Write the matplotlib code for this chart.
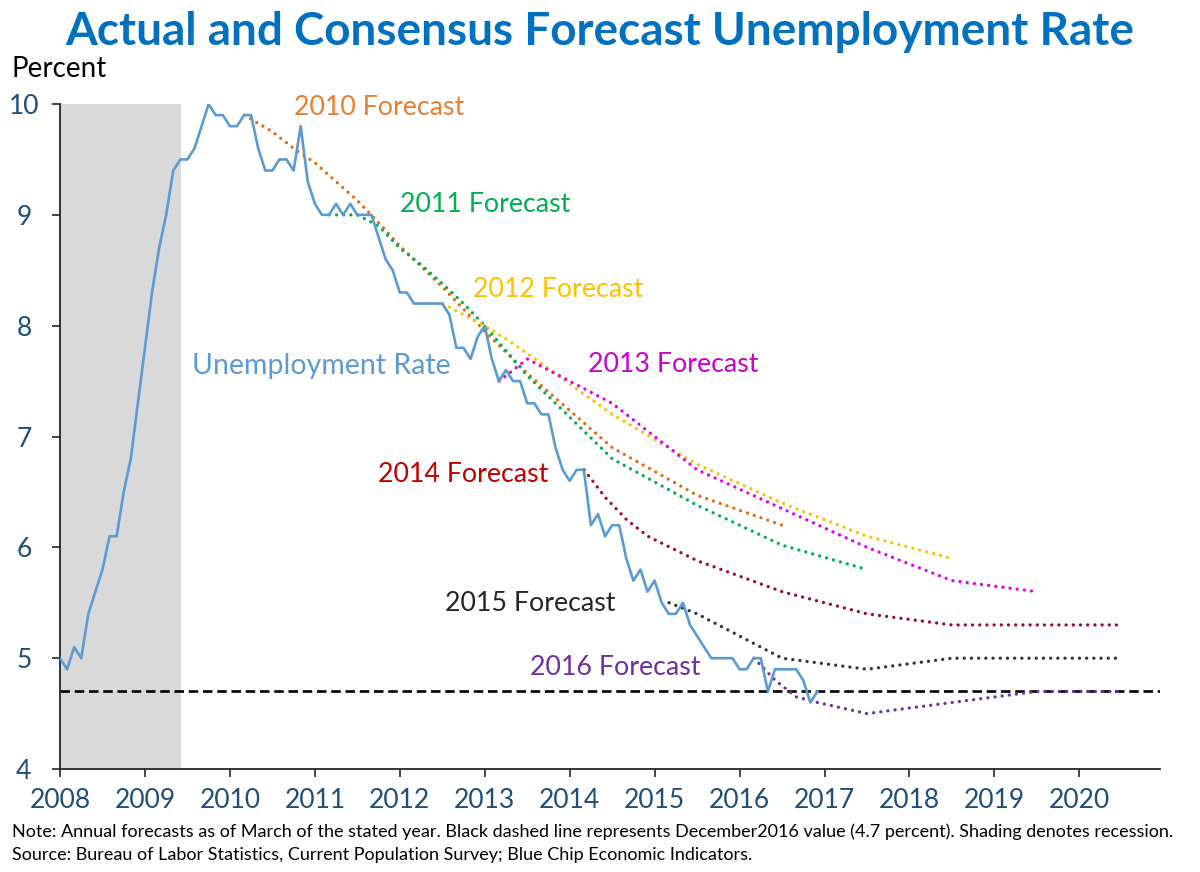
import matplotlib
matplotlib.use("Agg")
import matplotlib.pyplot as plt
import numpy as np

plt.rcParams['font.family'] = ['Lato', 'DejaVu Sans']

# Taxa de desemprego mensal, jan/2008 a dez/2016
desemprego = [
    5.0, 4.9, 5.1, 5.0, 5.4, 5.6, 5.8, 6.1, 6.1, 6.5, 6.8, 7.3,
    7.8, 8.3, 8.7, 9.0, 9.4, 9.5, 9.5, 9.6, 9.8, 10.0, 9.9, 9.9,
    9.8, 9.8, 9.9, 9.9, 9.6, 9.4, 9.4, 9.5, 9.5, 9.4, 9.8, 9.3,
    9.1, 9.0, 9.0, 9.1, 9.0, 9.1, 9.0, 9.0, 9.0, 8.8, 8.6, 8.5,
    8.3, 8.3, 8.2, 8.2, 8.2, 8.2, 8.2, 8.1, 7.8, 7.8, 7.7, 7.9,
    8.0, 7.7, 7.5, 7.6, 7.5, 7.5, 7.3, 7.3, 7.2, 7.2, 6.9, 6.7,
    6.6, 6.7, 6.7, 6.2, 6.3, 6.1, 6.2, 6.2, 5.9, 5.7, 5.8, 5.6,
    5.7, 5.5, 5.4, 5.4, 5.5, 5.3, 5.2, 5.1, 5.0, 5.0, 5.0, 5.0,
    4.9, 4.9, 5.0, 5.0, 4.7, 4.9, 4.9, 4.9, 4.9, 4.8, 4.6, 4.7,
]
meses = 2008 + np.arange(len(desemprego)) / 12

# Previsões de consenso (Blue Chip), feitas em março de cada ano
x_2010 = [2010.17, 2010.5, 2010.75, 2011.0, 2011.25, 2011.5, 2011.75, 2012.0, 2012.5, 2013.0, 2013.5, 2014.5, 2015.5, 2016.5]
y_2010 = [9.9, 9.75, 9.6, 9.47, 9.3, 9.13, 8.93, 8.72, 8.35, 7.95, 7.57, 6.9, 6.47, 6.2]

x_2011 = [2011.17, 2011.5, 2011.75, 2012.0, 2012.25, 2012.5, 2012.75, 2013.0, 2013.5, 2014.5, 2015.5, 2016.5, 2017.5]
y_2011 = [9.0, 9.0, 8.9, 8.7, 8.55, 8.38, 8.2, 8.0, 7.55, 6.8, 6.38, 6.02, 5.8]

x_2012 = [2012.17, 2012.5, 2012.75, 2013.0, 2013.25, 2013.5, 2014.5, 2015.5, 2016.5, 2017.5, 2018.5]
y_2012 = [8.2, 8.2, 8.1, 8.0, 7.88, 7.75, 7.2, 6.75, 6.4, 6.1, 5.9]

x_2013 = [2013.17, 2013.5, 2014.5, 2015.5, 2016.5, 2017.5, 2018.5, 2019.5]
y_2013 = [7.5, 7.7, 7.3, 6.7, 6.35, 6.0, 5.7, 5.6]

x_2014 = [2014.17, 2014.42, 2014.67, 2014.92, 2015.5, 2016.5, 2017.5, 2018.5, 2019.5, 2020.5]
y_2014 = [6.7, 6.45, 6.25, 6.1, 5.88, 5.6, 5.4, 5.3, 5.3, 5.3]

x_2015 = [2015.17, 2015.5, 2015.75, 2016.0, 2016.25, 2016.5, 2017.5, 2018.5, 2019.5, 2020.5]
y_2015 = [5.5, 5.4, 5.3, 5.2, 5.1, 5.0, 4.9, 5.0, 5.0, 5.0]

x_2016 = [2016.17, 2016.42, 2016.67, 2016.92, 2017.5, 2018.5, 2019.5, 2020.5]
y_2016 = [5.0, 4.8, 4.65, 4.6, 4.5, 4.6, 4.7, 4.7]

valor_dez_2016 = 4.7
recessao = (2008.0, 2009.42)
anos = list(range(2008, 2021))

fig = plt.figure(figsize=(12, 8.72), dpi=100)
ax = fig.add_axes([0.05, 0.1181, 0.9167, 0.7626])

ax.axvspan(recessao[0], recessao[1], color='#D9D9D9', lw=0, zorder=0)
ax.axhline(valor_dez_2016, color='black', lw=1.9, dashes=(3.6, 1.8), zorder=2)

pontilhado = dict(lw=2.4, dashes=(0.01, 2.15), dash_capstyle='round', zorder=3)
ax.plot(x_2010, y_2010, color='#E46C0A', **pontilhado)
ax.plot(x_2011, y_2011, color='#00B050', **pontilhado)
ax.plot(x_2012, y_2012, color='#FFC000', **pontilhado)
ax.plot(x_2013, y_2013, color='#E600E6', **pontilhado)
ax.plot(x_2014, y_2014, color='#9E0B30', **pontilhado)
ax.plot(x_2015, y_2015, color='#333333', **pontilhado)
ax.plot(x_2016, y_2016, color='#7030A0', **pontilhado)

ax.plot(meses, desemprego, color='#5B9BD5', lw=1.9, zorder=4)

# Rótulos das séries
rotulos = dict(fontsize=19.3, va='baseline')
ax.text(2010.76, 9.9, "2010 Forecast", color='#ED7D31', **rotulos)
ax.text(2012.0, 9.03, "2011 Forecast", color='#00B050', **rotulos)
ax.text(2012.86, 8.26, "2012 Forecast", color='#FFC000', **rotulos)
ax.text(2014.21, 7.58, "2013 Forecast", color='#CC00CC', **rotulos)
ax.text(2009.55, 7.56, "Unemployment Rate", color='#5B9BD5', fontsize=20.5, va='baseline')
ax.text(2011.74, 6.59, "2014 Forecast", color='#C00000', **rotulos)
ax.text(2012.53, 5.43, "2015 Forecast", color='#262626', **rotulos)
ax.text(2013.53, 4.85, "2016 Forecast", color='#7030A0', **rotulos)

ax.set_xlim(2008, 2020.95)
ax.set_ylim(4, 10)
ax.set_xticks(anos)
ax.set_xticklabels([str(a) for a in anos])
ax.set_yticks(range(4, 11))

for lado in ['top', 'right']:
    ax.spines[lado].set_visible(False)
for lado in ['left', 'bottom']:
    ax.spines[lado].set_color('#262626')
    ax.spines[lado].set_linewidth(1.3)

ax.tick_params(axis='both', direction='out', length=6, width=1.2, color='#262626',
               labelsize=19, labelcolor='#1F4E79')
ax.tick_params(axis='x', pad=8)
ax.tick_params(axis='y', pad=20)
for rotulo in ax.get_yticklabels():
    rotulo.set_ha('center')

fig.text(0.5, 1 - 45 / 872, "Actual and Consensus Forecast Unemployment Rate",
         ha='center', va='baseline', fontsize=33, fontweight='bold', color='#0070C0')
fig.text(12 / 1200, 1 - 77 / 872, "Percent", ha='left', va='baseline', fontsize=20, color='black')

fig.text(12 / 1200, 1 - 837 / 872,
         "Note: Annual forecasts as of March of the stated year. Black dashed line represents "
         "December2016 value (4.7 percent). Shading denotes recession.",
         ha='left', va='baseline', fontsize=13.0, color='black')
fig.text(12 / 1200, 1 - 860 / 872,
         "Source: Bureau of Labor Statistics, Current Population Survey; Blue Chip Economic Indicators.",
         ha='left', va='baseline', fontsize=13.0, color='black')

fig.savefig("out.png", dpi=100)
